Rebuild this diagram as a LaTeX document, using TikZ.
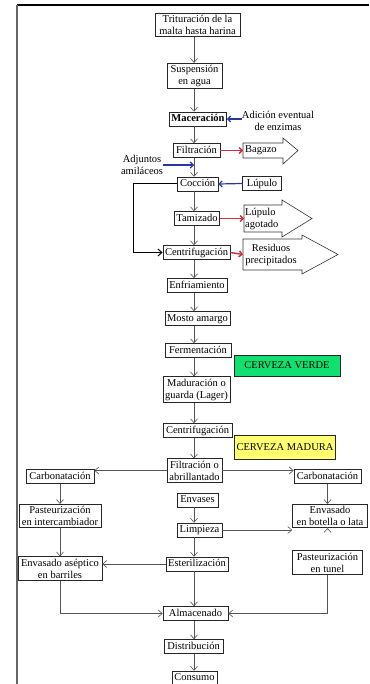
\documentclass[tikz,border=0pt]{standalone}
\usepackage{fontspec}
\setmainfont{Liberation Serif}
\usetikzlibrary{arrows.meta}
\newcommand\fs{\fontsize{10.5}{12}\selectfont}
\definecolor{arrgray}{HTML}{555555}
\definecolor{myblue}{HTML}{2A35A8}
\definecolor{myred}{HTML}{D42A3A}
\definecolor{vgreen}{HTML}{10E070}
\definecolor{myellow}{HTML}{FFFF70}
\tikzset{
  box/.style={draw=black!85, line width=0.7pt, inner xsep=2pt, inner ysep=2pt, align=center, font=\fs},
  one/.style={box, text height=7.5pt, text depth=2.3pt},
  plain/.style={inner sep=0pt, align=center, font=\fs},
  flow/.style={draw=arrgray, line width=0.6pt, -{Straight Barb[length=4pt,width=7pt]}},
  byp/.style={draw=black, line width=1pt, -{Straight Barb[length=4pt,width=7pt]}},
  redarr/.style={draw=myred, line width=1.4pt, -{Straight Barb[length=3pt,width=6pt]}},
  bluearr/.style={draw=myblue, line width=1.2pt, -{Straight Barb[length=3pt,width=6pt]}},
  bigarrow/.style={draw=black!80, line width=0.6pt, fill=white},
}
\begin{document}
\begin{tikzpicture}[x=1pt,y=-1pt]
\useasboundingbox (0,0) rectangle (369,684);
\clip (0,0) rectangle (369,684);
% frame
\draw[line width=1.3pt, black] (17,5) -- (369,5);
\draw[line width=1.8pt, black!60] (17,5) -- (17,690);
\coordinate (sp) at (194,0);
\coordinate (byp) at (133,0);
% main column
\node[box, minimum width=85pt] (trit) at (197.5,25) {Trituración de la\\malta hasta harina};
\node[box, minimum width=55pt] (susp) at (194.5,76) {Suspensión\\en agua};
\node[one, minimum width=54pt, font=\fs\bfseries] (mace) at (198,119) {Maceración};
\node[one, minimum width=47pt] (filt) at (196.5,150.5) {Filtración};
\node[one, minimum width=41pt] (cocc) at (197.5,184) {Cocción};
\node[one, minimum width=44pt] (tami) at (197,218.5) {Tamizado};
\node[one, minimum width=67pt] (cent1) at (196.5,252.5) {Centrifugación};
\node[one, minimum width=60pt] (enfr) at (197,285.5) {Enfriamiento};
\node[one, minimum width=65pt] (most) at (197.5,318.5) {Mosto amargo};
\node[one, minimum width=66pt] (ferm) at (198,350.5) {Fermentación};
\node[box, minimum width=67pt] (madu) at (196.5,389.5) {Maduración o\\guarda (Lager)};
\node[one, minimum width=69pt] (cent2) at (197.5,430.5) {Centrifugación};
\node[box, minimum width=55pt] (filt2) at (194.5,470.5) {Filtración o\\abrillantado};
\node[one, minimum width=41pt] (enva) at (197.5,500) {Envases};
\node[one, minimum width=45pt] (limp) at (199.5,530) {Limpieza};
\node[one, minimum width=62pt] (este) at (197,564) {Esterilización};
\node[one, minimum width=65pt] (alma) at (195.5,613.5) {Almacenado};
\node[one, minimum width=59pt] (dist) at (193.5,646.5) {Distribución};
\node[one, minimum width=45pt] (cons) at (194.5,678) {Consumo};
% side columns
\node[one, minimum width=68pt] (carbL) at (60,476.5) {Carbonatación};
\node[box, minimum width=82pt] (pastL) at (60,516) {Pasteurización\\en intercambiador};
\node[box, minimum width=84pt] (asep) at (60,568.5) {Envasado aséptico\\en barriles};
\node[one, minimum width=67pt] (carbR) at (327.5,476.5) {Carbonatación};
\node[box, minimum width=75pt] (envR) at (330,516) {Envasado\\en botella o lata};
\node[box, minimum width=70pt] (pastR) at (327.5,562.5) {Pasteurización\\en tunel};
% coloured labels
\node[box, fill=vgreen, minimum width=106pt, minimum height=21pt] (verde) at (287,365.5) {CERVEZA VERDE};
\node[box, fill=myellow, minimum width=98pt, minimum height=24pt] (madura) at (285,447.5) {CERVEZA MADURA};
% inputs
\node[plain] (adic) at (278,121) {Adición eventual\\de enzimas};
\node[plain] (adj) at (142,164.5) {Adjuntos\\amiláceos};
\node[box, inner xsep=4pt, minimum width=38pt] (lup) at (262,183.5) {Lúpulo};
\coordinate (adjend) at (194,165);
% outputs (big arrows)
\draw[bigarrow] (243,143) -- (283,143) -- (283,138) -- (298,150.5) -- (283,164) -- (283,158) -- (243,158) -- cycle;
\coordinate (bagt) at (243,150.5);
\node[plain, anchor=west] (bag) at (245,150.5) {Bagazo};
\draw[bigarrow] (244,205) -- (282,205) -- (282,200) -- (312,218.5) -- (282,237) -- (282,232) -- (244,232) -- cycle;
\coordinate (lagt) at (244,218.5);
\node[plain, anchor=west, align=left] (lag) at (245,218.5) {Lúpulo\\agotado};
\draw[bigarrow] (243,239) -- (302,239) -- (302,235) -- (338,254.5) -- (302,274) -- (302,270) -- (243,270) -- cycle;
\coordinate (rest) at (243,254.5);
\node[plain] (res) at (271,254.5) {Residuos\\precipitados};
% main flow arrows
\draw[flow] (trit.south -| sp) -- (susp.north -| sp);
\draw[flow] (susp.south -| sp) -- (mace.north -| sp);
\draw[flow] (mace.south -| sp) -- (filt.north -| sp);
\draw[flow] (filt.south -| sp) -- (cocc.north -| sp);
\draw[flow] (cocc.south -| sp) -- (tami.north -| sp);
\draw[flow] (tami.south -| sp) -- (cent1.north -| sp);
\draw[flow] (cent1.south -| sp) -- (enfr.north -| sp);
\draw[flow] (enfr.south -| sp) -- (most.north -| sp);
\draw[flow] (most.south -| sp) -- (ferm.north -| sp);
\draw[flow] (ferm.south -| sp) -- (madu.north -| sp);
\draw[flow] (madu.south -| sp) -- (cent2.north -| sp);
\draw[flow] (cent2.south -| sp) -- (filt2.north -| sp);
\draw[flow] (enva.south -| sp) -- (limp.north -| sp);
\draw[flow] (limp.south -| sp) -- (este.north -| sp);
\draw[flow] (este.south -| sp) -- (alma.north -| sp);
\draw[flow] (alma.south -| sp) -- (dist.north -| sp);
\draw[flow] (dist.south -| sp) -- (cons.north -| sp);
% branches
\draw[flow] (filt2.west) -- (filt2.west -| carbL.east);
\draw[flow] (filt2.east) -- (filt2.east -| carbR.west);
\draw[flow] (carbL) -- (pastL);
\draw[flow] (pastL) -- (asep);
\draw[flow] (carbR.south) -- (carbR.south |- envR.north);
\draw[flow] (envR.south -| carbR.south) -- (envR.south -| carbR.south |- pastR.north);
\draw[flow] (limp.east) -- (limp.east -| envR.west);
\draw[flow] (este.west) -- (este.west -| asep.east);
\draw[flow] (asep.south) |- (alma.west);
\draw[flow] (pastR.south) |- (alma.east);
% side inputs/outputs
\draw[bluearr] (adic.west |- mace.east) -- (mace.east);
\draw[bluearr] (adj.east |- adjend) -- (adjend);
\draw[bluearr] (lup.west) -- (cocc.east);
\draw[redarr] (filt.east) -- (bagt);
\draw[redarr] (tami.east) -- (lagt);
\draw[redarr] (cent1.east) -- (rest);
\draw[byp] (cocc.west) -- (cocc.west -| byp) |- (cent1.west);
\end{tikzpicture}
\end{document}
